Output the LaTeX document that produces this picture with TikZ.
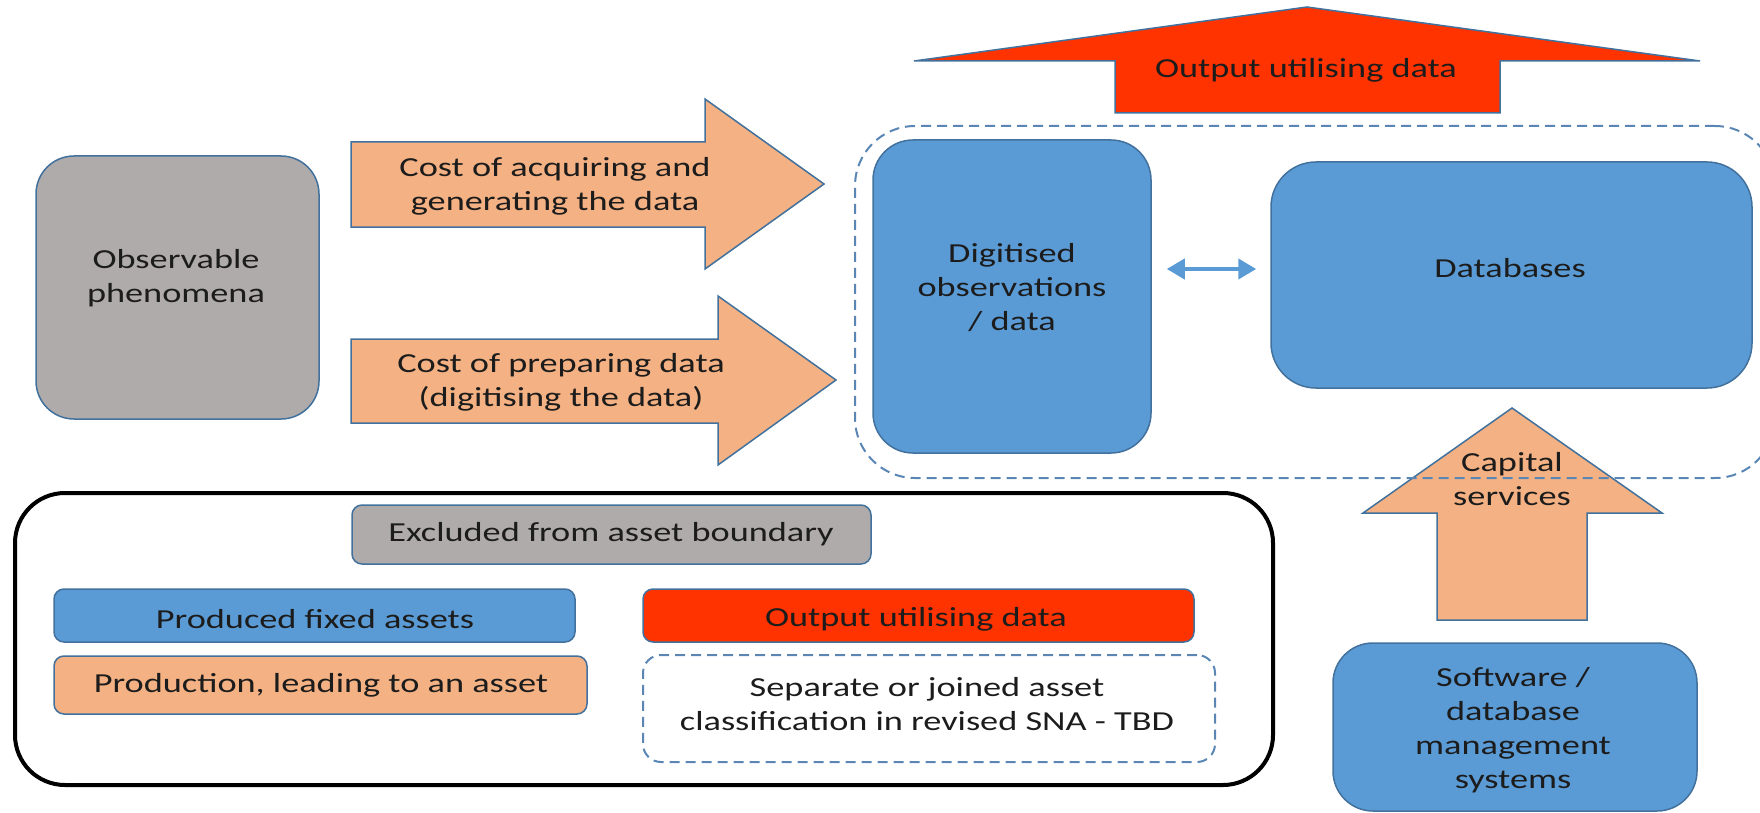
\documentclass[tikz,border=0pt]{standalone}
\usepackage{fontspec}
\setmainfont[FakeStretch=1.32]{Carlito}
\usetikzlibrary{arrows.meta}

\definecolor{greyfill}{HTML}{AFABAB}
\definecolor{bluefill}{HTML}{5B9BD5}
\definecolor{orangefill}{HTML}{F4B183}
\definecolor{redfill}{HTML}{FF3300}
\definecolor{edgeblue}{HTML}{41719C}
\definecolor{dashblue}{HTML}{5A86B5}
\definecolor{ink}{HTML}{1C1C1C}

\begin{document}
\begin{tikzpicture}[x=1pt,y=-1pt,
  shape base/.style={draw=edgeblue, line width=1.5pt, inner sep=0pt},
  greybox/.style={shape base, fill=greyfill},
  bluebox/.style={shape base, fill=bluefill},
  orangebox/.style={shape base, fill=orangefill},
  redbox/.style={shape base, fill=redfill},
  dashbox/.style={draw=dashblue, line width=2pt, dash pattern=on 10pt off 6pt, inner sep=0pt},
  blockarrow/.style={draw=edgeblue, line width=1.5pt, line join=miter},
  txt/.style={font=\fontsize{27.5}{34}\selectfont, text=ink, align=center, inner sep=0pt},
]
\useasboundingbox (0,0) rectangle (1760,813);

% --- block arrows into the data area
\draw[blockarrow, fill=orangefill] (351,142) -- (705,142) -- (705,99) -- (824,184)
  -- (705,269) -- (705,227) -- (351,227) -- cycle;
\node[txt] (acqtxt) at (555,186) {Cost of acquiring and\\generating the data};

\draw[blockarrow, fill=orangefill] (351,339) -- (718,339) -- (718,296) -- (836,380)
  -- (718,465) -- (718,423) -- (351,423) -- cycle;
\node[txt] (preptxt) at (561,382) {Cost of preparing data\\(digitising the data)};

% --- output arrow at the top
\draw[blockarrow, fill=redfill] (1115,113) -- (1115,61) -- (914,61) -- (1307,7)
  -- (1700,61) -- (1500,61) -- (1500,113) -- cycle;
\node[txt] (outtxt) at (1306,70) {Output utilising data};

% --- capital services arrow
\draw[blockarrow, fill=orangefill] (1437,620) -- (1437,513) -- (1363,513) -- (1512,408)
  -- (1662,513) -- (1587,513) -- (1587,620) -- cycle;

% --- main boxes
\node[greybox, rounded corners=38pt, minimum width=283pt, minimum height=263pt] (obsbox) at (177.5,287.5) {};
\node[txt] (obstxt) at (176,278) {Observable\\phenomena};

\node[bluebox, rounded corners=40pt, minimum width=278pt, minimum height=313pt] (digbox) at (1012,296.5) {};
\node[txt] (digtxt) at (1012,288) {Digitised\\observations\\/ data};

\node[bluebox, rounded corners=45pt, minimum width=481pt, minimum height=226pt] (dbbox) at (1511.5,275) {};
\node[txt] (dbtxt) at (1510,268) {Databases};

\node[bluebox, rounded corners=40pt, minimum width=364pt, minimum height=168pt] (swbox) at (1515,727) {};
\node[txt] (swtxt) at (1513,730) {Software /\\database\\management\\systems};

% dashed grouping around the data boxes
\node[dashbox, rounded corners=60pt, minimum width=920pt, minimum height=352pt] (group) at (1315,302) {};

\node[txt] (captxt) at (1512,479) {Capital\\services};

% two-way link between data and databases
\coordinate (linky) at (1211,269);
\draw[draw=bluefill, line width=4pt, {Triangle[length=18pt,width=20pt]}-{Triangle[length=18pt,width=20pt]},
  shorten <=15pt, shorten >=14pt] (digbox.east |- linky) -- (dbbox.west |- linky);

% --- legend
\node[draw=black, line width=4pt, rounded corners=50pt, minimum width=1258pt, minimum height=292pt, inner sep=0pt] (legend) at (644,639) {};

\node[greybox, rounded corners=10pt, minimum width=519pt, minimum height=59pt] (exclbox) at (611.5,534.5) {};
\node[txt] (excltxt) at (611,534) {Excluded from asset boundary};

\node[bluebox, rounded corners=10pt, minimum width=521pt, minimum height=53pt] (pfabox) at (314.5,615.5) {};
\node[txt] (pfatxt) at (315,619) {Produced fixed assets};

\node[redbox, rounded corners=10pt, minimum width=551pt, minimum height=53pt] (outbox) at (918.5,615.5) {};
\node[txt] (outltxt) at (916,619) {Output utilising data};

\node[orangebox, rounded corners=10pt, minimum width=533pt, minimum height=58pt] (prodbox) at (320.5,685) {};
\node[txt] (prodtxt) at (321,685) {Production, leading to an asset};

\node[dashbox, rounded corners=18pt, minimum width=572pt, minimum height=107pt] (sepbox) at (929,708.5) {};
\node[txt] (septxt) at (927,704) {Separate or joined asset\\classification in revised SNA - TBD};

\end{tikzpicture}
\end{document}
